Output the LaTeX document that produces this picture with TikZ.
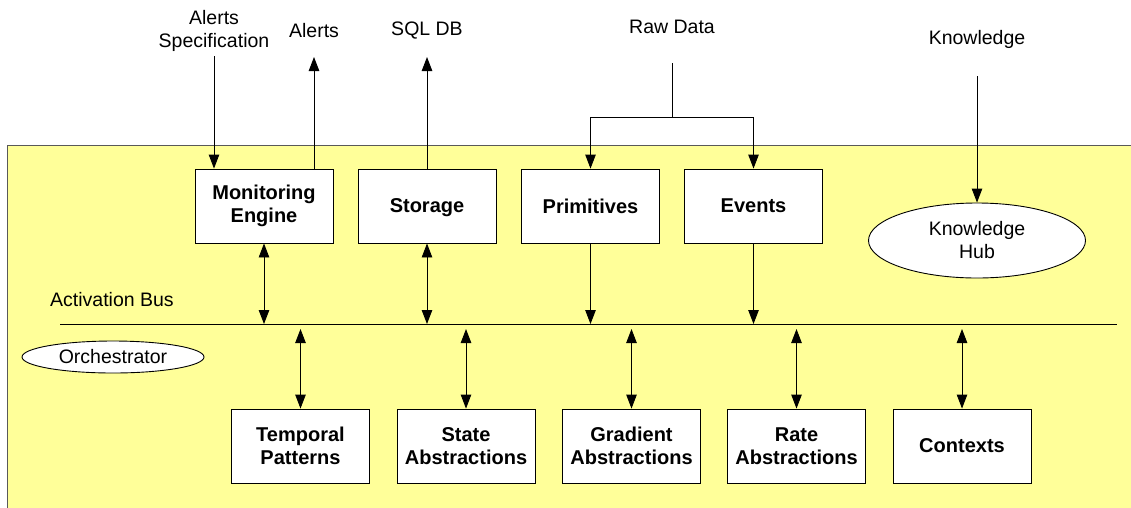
\documentclass[tikz,border=0pt]{standalone}
\usepackage{fontspec}
\setmainfont{Liberation Sans}
\usetikzlibrary{arrows.meta,shapes.geometric}
\definecolor{panelyellow}{RGB}{255,255,153}
\tikzset{
  box/.style={draw=black, fill=white, line width=0.9pt, minimum width=138pt, minimum height=74pt, align=center, inner sep=2pt, font=\fontsize{20}{23}\selectfont\bfseries},
  oval/.style={draw=black, fill=white, line width=0.9pt, ellipse, inner sep=0pt, align=center, font=\fontsize{19.5}{23}\selectfont},
  lbl/.style={align=center, font=\fontsize{19.5}{23}\selectfont, inner sep=0pt},
  conn/.style={line width=0.9pt, -{Triangle[length=14pt,width=10.5pt]}},
  dconn/.style={line width=0.9pt, {Triangle[length=14pt,width=10.5pt]}-{Triangle[length=14pt,width=10.5pt]}},
  plain/.style={line width=0.9pt}
}
\begin{document}
\begin{tikzpicture}[x=1pt,y=-1pt]
\clip (0,0) rectangle (1131,507);
\fill[white] (0,0) rectangle (1131,507);
\draw[fill=panelyellow, draw=black!65, line width=0.9pt] (7,145) rectangle (1140,515);

% top row
\node[box] (me) at (264,206) {Monitoring\\Engine};
\node[box, text depth=0pt] (st) at (427,206) {Storage};
\node[box] (pr) at (590.5,206) {Primitives};
\node[box] (ev) at (753.5,206) {Events};
\node[oval, minimum width=217pt, minimum height=75pt] (kh) at (977,240.5) {Knowledge\\Hub};

% bus
\coordinate (busL) at (60,324);
\coordinate (busR) at (1117,324);
\draw[plain] (busL) -- (busR);
\node[lbl, anchor=west] (ab) at (50,300) {Activation Bus};
\node[oval, minimum width=182pt, minimum height=32pt] (orch) at (113,357) {Orchestrator};

% bottom row
\node[box] (tp) at (300.5,446) {Temporal\\Patterns};
\node[box] (sa) at (466,446) {State\\Abstractions};
\node[box] (ga) at (631.5,446) {Gradient\\Abstractions};
\node[box] (ra) at (796.5,446) {Rate\\Abstractions};
\node[box] (cx) at (962,446) {Contexts};

% external labels
\node[lbl] (aspec) at (214,30.5) {Alerts\\Specification};
\node[lbl] (alerts) at (314,31) {Alerts};
\node[lbl] (sql) at (427,31) {SQL DB};
\node[lbl] (raw) at (672,27) {Raw Data};
\node[lbl] (know) at (977,39) {Knowledge};

\coordinate (asTop) at (214,56);
\coordinate (alTop) at (314,57);
\coordinate (sqTop) at (427,57);
\coordinate (rawTop) at (672,63);
\coordinate (rawJ) at (672,117);
\coordinate (knTop) at (977,76);

\draw[conn] (asTop) -- (asTop |- me.north);
\draw[conn] (alTop |- me.north) -- (alTop);
\draw[conn] (st.north) -- (sqTop);
\draw[plain] (rawTop) -- (rawJ);
\draw[conn] (rawJ) -| (pr.north);
\draw[conn] (rawJ) -| (ev.north);
\draw[conn] (knTop) -- (kh.north);

% top row to bus
\draw[dconn] (me.south) -- (me.south |- busL);
\draw[dconn] (st.south) -- (st.south |- busL);
\draw[conn] (pr.south) -- (pr.south |- busL);
\draw[conn] (ev.south) -- (ev.south |- busL);

% bus to bottom row
\foreach \n in {tp,sa,ga,ra,cx}{
  \draw[dconn] ([yshift=-5pt]\n.north |- busL) -- (\n.north);
}
\end{tikzpicture}
\end{document}
